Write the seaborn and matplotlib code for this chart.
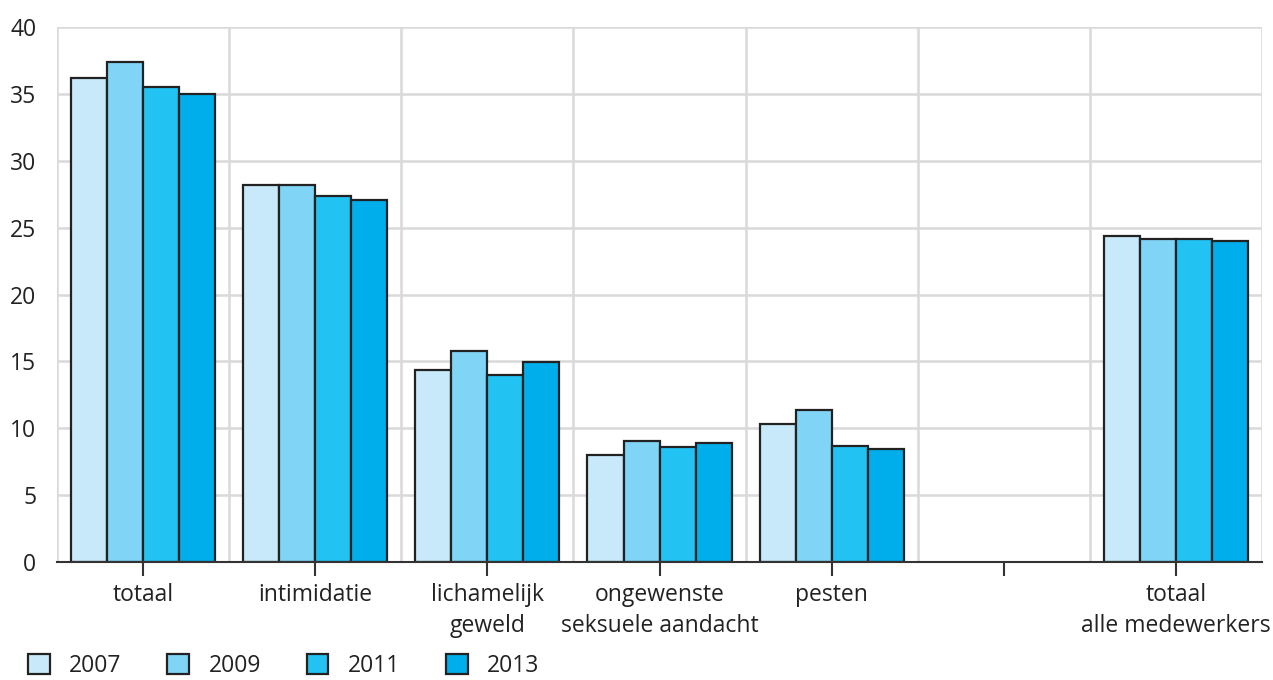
import numpy as np
import pandas as pd
import matplotlib
matplotlib.use("Agg")
import matplotlib.pyplot as plt
import seaborn as sns

# data
categories = ["totaal", "intimidatie", "lichamelijk\ngeweld",
              "ongewenste\nseksuele aandacht", "pesten", "",
              "totaal\nalle medewerkers"]
years = ["2007", "2009", "2011", "2013"]
values_2007 = [36.2, 28.2, 14.35, 8.0, 10.3, np.nan, 24.35]
values_2009 = [37.4, 28.2, 15.8, 9.07, 11.35, np.nan, 24.15]
values_2011 = [35.5, 27.4, 13.95, 8.6, 8.67, np.nan, 24.13]
values_2013 = [35.0, 27.1, 14.93, 8.9, 8.47, np.nan, 24.02]
colors = ["#c8e9f9", "#80d4f6", "#22c3f3", "#00aeeb"]

rows = []
for year, vals in zip(years, [values_2007, values_2009, values_2011, values_2013]):
    for cat, v in zip(categories, vals):
        rows.append({"categorie": cat, "jaar": year, "waarde": v})
df = pd.DataFrame(rows)

sns.set_style("white")
plt.rcParams["font.family"] = ["Open Sans", "DejaVu Sans"]
plt.rcParams["text.color"] = "#222222"

fig = plt.figure(figsize=(12.73, 6.8), dpi=100)
ax = fig.add_axes([0.0448, 0.1735, 0.9466, 0.7868])

sns.barplot(data=df, x="categorie", y="waarde", hue="jaar", order=categories,
            hue_order=years, palette=colors, saturation=1, width=0.837, gap=0,
            edgecolor="#222222", linewidth=1.6, ax=ax, legend=True)

ax.set_xlim(-0.5, 6.5)
ax.set_ylim(0, 40)
ax.set_yticks(range(0, 41, 5))
ax.set_xticks(range(len(categories)))
ax.set_xticklabels(categories, fontsize=16.5, color="#222222", linespacing=1.4)
ax.set_xticks(np.arange(-0.5, 7, 1), minor=True)
ax.tick_params(axis="y", length=0, pad=15, labelsize=16.5, labelcolor="#222222")
ax.tick_params(axis="x", which="major", bottom=True, length=10, width=1.5,
               color="#333333", direction="out", pad=5)
ax.tick_params(axis="x", which="minor", bottom=False, length=0)
ax.set_xlabel("")
ax.set_ylabel("")

ax.set_axisbelow(True)
ax.grid(axis="y", color="#d9d9d9", linewidth=1.8)
ax.grid(axis="x", which="minor", color="#d9d9d9", linewidth=1.8)
ax.grid(axis="x", which="major", visible=False)
for side in ["top", "right", "left"]:
    ax.spines[side].set_visible(False)
ax.spines["bottom"].set_color("#333333")
ax.spines["bottom"].set_linewidth(1.5)

handles, labels = ax.get_legend_handles_labels()
ax.legend(handles, labels, loc="lower left", bbox_to_anchor=(0.02, 0.0),
          bbox_transform=fig.transFigure, ncol=4, frameon=False, fontsize=16.5,
          handlelength=0.95, handleheight=0.95, handletextpad=0.85,
          columnspacing=2.0, borderaxespad=0.0, borderpad=0.1)

fig.savefig("out.png", dpi=100)
